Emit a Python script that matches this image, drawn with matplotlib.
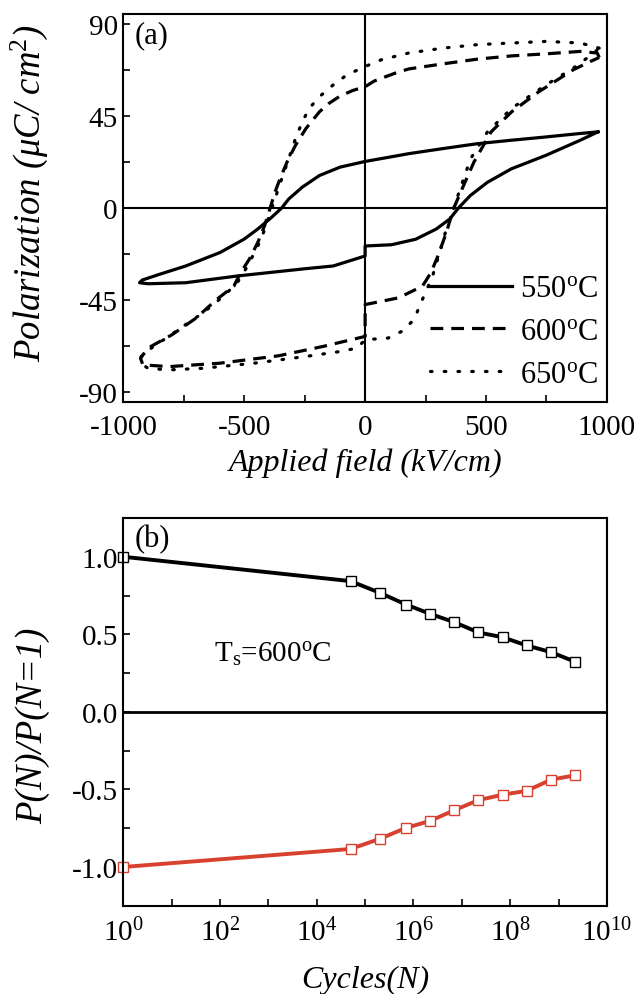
import numpy as np
import matplotlib
matplotlib.use('Agg')
import matplotlib.pyplot as plt
from matplotlib.ticker import MultipleLocator, LogLocator, NullFormatter, FormatStrFormatter

plt.rcParams['font.family'] = ['Liberation Serif', 'DejaVu Serif']
plt.rcParams['mathtext.fontset'] = 'custom'
plt.rcParams['mathtext.rm'] = 'Liberation Serif'
plt.rcParams['mathtext.it'] = 'Liberation Serif:italic'
plt.rcParams['axes.unicode_minus'] = False
plt.rcParams['font.size'] = 22

# ---- panel (a): P-E loops (kV/cm, uC/cm2) ----
# each loop: descending branch from +Emax to -Emax, then ascending branch back
e550 = [963, 890, 748, 606, 464, 322, 180, 81, 0, -104, -189, -260, -316, -345, -387, -444, -501,
        -600, -742, -851, -922, -933, -898, -742, -529, -245, -132, 0,
        0, 109, 209, 294, 350, 386, 435, 506, 605, 748, 890, 963]
p550 = [37.3, 36.5, 34.8, 33.2, 31.5, 29.1, 26.6, 24.5, 22.8, 20, 15.9, 10.2, 4.4, 0, -4.6, -10.3, -15.3,
        -21.8, -28.4, -32.5, -35.3, -36.6, -37.1, -36.6, -33.3, -29.7, -28.4, -23.5,
        -18.6, -18, -15.3, -10.3, -5.4, 0, 6.1, 12.6, 19.2, 25.8, 33.2, 37.3]

e600 = [968, 960, 890, 748, 606, 464, 322, 180, 123, 38, 0, -50, -104, -150, -189, -245, -288, -323, -352,
        -373, -394, -416, -444, -479, -515, -543, -614, -699, -799, -898, -929, -919, -813, -600, -359,
        -174, 0, 0, 138, 237, 272, 301, 336, 365, 407, 450, 521, 606, 719, 861, 932, 968]
p600 = [73.7, 75.9, 76.7, 75.5, 74.5, 72.9, 70.6, 68.1, 66, 62.2, 59.4, 57.6, 54.8, 51.2, 47.1, 38.9, 30.7,
        22.5, 14.3, 7.7, -0.5, -8.7, -16.9, -25.1, -31.7, -38.3, -44.8, -53.9, -62.1, -68.6, -73.6, -76.8,
        -77.7, -76, -72.4, -67.8, -62.9, -47.3, -44, -38.3, -31.7, -23.5, -12, -0.5, 11, 22.5, 37.3, 47.1,
        57, 67.7, 71.8, 73.7]

e650 = [968, 890, 748, 606, 464, 322, 180, 67, 0, -75, -132, -189, -231, -260, -288, -316, -345, -373,
        -401, -430, -486, -529, -586, -671, -742, -813, -884, -926, -929, -898, -813, -671, -458,
        -245, -104, -33, 0, 95, 152, 202, 237, 279, 308, 336, 365, 393, 436, 506, 606, 748, 861, 946, 968]
p650 = [78.3, 80.8, 81.6, 80.8, 80, 78.3, 75.9, 72.6, 69.3, 65.2, 60.3, 54.5, 48.8, 42.2, 34, 24.1, 14.3, 4.4,
        -5.4, -15.3, -28.4, -36.6, -43.2, -51.4, -57.1, -62.9, -68.6, -72.7, -76, -78.5, -79.3, -78.5, -76,
        -72.7, -70.3, -68.6, -64.5, -63.7, -60.4, -54.7, -44.8, -33.3, -21.8, -10.3, -0.5, 9.4, 24.1, 37.3,
        48.8, 60.3, 68.5, 75.9, 78.3]

# ---- panel (b): fatigue ----
cycles = [1, 5e4, 2e5, 7e5, 2.2e6, 7e6, 2.2e7, 7e7, 2.2e8, 7e8, 2.2e9]
pos_ratio = [1.0, 0.843, 0.768, 0.692, 0.632, 0.578, 0.512, 0.481, 0.428, 0.385, 0.323]
neg_ratio = [-1.0, -0.884, -0.819, -0.748, -0.703, -0.634, -0.569, -0.534, -0.509, -0.437, -0.409]

fig = plt.figure(figsize=(6.38, 9.95), dpi=100)

ax1 = fig.add_axes([0.1933, 0.595, 0.758, 0.3899])
ax1.axhline(0, color='black', lw=1.5, zorder=1)
ax1.axvline(0, color='black', lw=1.5, zorder=1)
ax1.plot(e550, p550, color='black', lw=2.3, ls='-', label='550$^{\\rm o}$C')
ax1.plot(e600, p600, color='black', lw=2.3, ls=(0, (4, 2.5)), label='600$^{\\rm o}$C')
ax1.plot(e650, p650, color='black', lw=2.3, ls=(0, (0.5, 3.8)), dash_capstyle='round',
         label='650$^{\\rm o}$C')
ax1.set_xlim(-1000, 1000)
ax1.set_ylim(-95, 95)
ax1.xaxis.set_major_locator(MultipleLocator(500))
ax1.xaxis.set_minor_locator(MultipleLocator(250))
ax1.yaxis.set_major_locator(MultipleLocator(45))
ax1.yaxis.set_minor_locator(MultipleLocator(22.5))
ax1.set_xlabel('Applied field (kV/cm)', fontstyle='italic', fontsize=23, labelpad=5)
ax1.set_ylabel('Polarization ($\\mu$C/ cm$^2$)', fontstyle='italic', fontsize=26.5)
ax1.yaxis.set_label_coords(-0.152, 0.54)
ax1.text(0.023, 0.985, '(a)', transform=ax1.transAxes, ha='left', va='top')
ax1.legend(loc='lower right', frameon=False, handlelength=2.7, handletextpad=0.25,
           labelspacing=0.45, borderaxespad=0.0, borderpad=0.3, bbox_to_anchor=(1.0, 0.01))

ax2 = fig.add_axes([0.1933, 0.0887, 0.758, 0.3897])
ax2.axhline(0, color='black', lw=2.0, zorder=1)
ax2.plot(cycles, pos_ratio, color='black', lw=2.8, marker='s', ms=7.5,
         mfc='white', mec='black', mew=1.0, clip_on=False)
ax2.plot(cycles, neg_ratio, color='#d8412f', lw=2.8, marker='s', ms=7.5,
         mfc='white', mec='#d8412f', mew=1.0, clip_on=False)
ax2.set_xscale('log')
ax2.set_xlim(1, 1e10)
ax2.set_ylim(-1.25, 1.25)
ax2.xaxis.set_major_locator(LogLocator(base=100, numticks=10))
ax2.xaxis.set_minor_locator(LogLocator(base=10, subs=(1.0,), numticks=20))
ax2.xaxis.set_minor_formatter(NullFormatter())
ax2.yaxis.set_major_locator(MultipleLocator(0.5))
ax2.yaxis.set_minor_locator(MultipleLocator(0.25))
ax2.yaxis.set_major_formatter(FormatStrFormatter('%.1f'))
ax2.set_xlabel('Cycles(N)', fontstyle='italic', fontsize=23, labelpad=13)
ax2.set_ylabel('P(N)/P(N=1)', fontstyle='italic', fontsize=26.5)
ax2.yaxis.set_label_coords(-0.152, 0.467)
ax2.text(0.023, 0.985, '(b)', transform=ax2.transAxes, ha='left', va='top')
ax2.text(75, 0.325, 'T$_{\\rm s}$=600$^{\\rm o}$C', fontsize=21, ha='left', va='baseline')

for ax in (ax1, ax2):
    for s in ax.spines.values():
        s.set_linewidth(1.5)
    ax.tick_params(which='both', direction='in', top=False, right=False, width=1.2,
                   length=5, labelsize=21)
    ax.tick_params(axis='y', pad=4)
ax1.tick_params(axis='x', pad=9)
ax2.tick_params(axis='x', pad=9)

fig.savefig('out.png', dpi=100)
